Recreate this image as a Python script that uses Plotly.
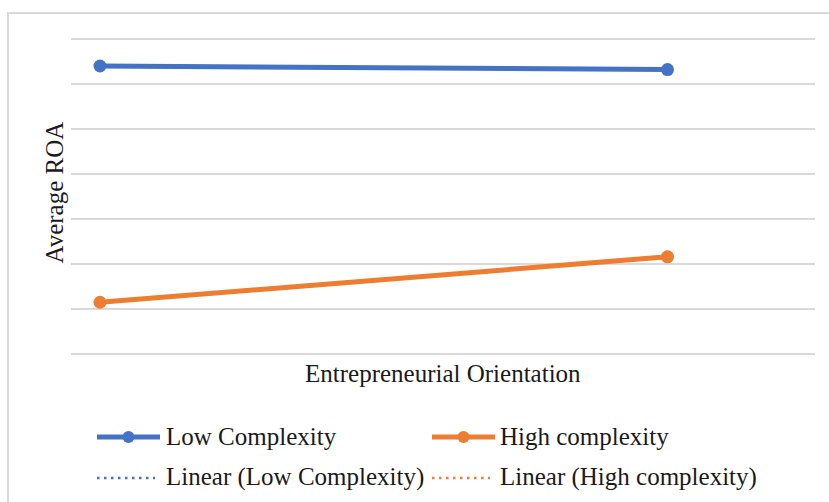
import plotly.graph_objects as go

# Entrepreneurial orientation (low / high, standardised) and average ROA
eo_levels = [-1, 1]
roa_low_complexity = [0.0640, 0.0632]
roa_high_complexity = [0.0115, 0.0216]

series_names = ["Low Complexity", "High complexity"]
trend_names = ["Linear (Low Complexity)", "Linear (High complexity)"]
colors = ["#4472C4", "#ED7D31"]

W, H = 829, 502
L, R = 71, 815          # plot area, horizontal pixels
Y_TOP, Y_BOT = 39, 354  # pixel rows of the 0.07 and 0 gridlines
PAD = 3                 # a little room so the outer gridlines are drawn
T, B = Y_TOP - PAD, Y_BOT + PAD
PX_PER_UNIT = (Y_BOT - Y_TOP) / 0.07
FONT = "Liberation Serif"
TEXT = "#1A1A1A"
DOTS = "2.5px,4.5px"


def px(x):
    return (x - L) / (R - L)


def py(y):
    return (B - y) / (B - T)


fig = go.Figure()

for name, vals, c in zip(series_names, [roa_low_complexity, roa_high_complexity], colors):
    fig.add_trace(go.Scatter(
        x=eo_levels, y=vals, mode="lines+markers", name=name,
        line=dict(color=c, width=5),
        marker=dict(color=c, size=13, symbol="circle"),
        showlegend=False,
    ))

# linear trendlines through each series
for name, vals, c in zip(trend_names, [roa_low_complexity, roa_high_complexity], colors):
    fig.add_trace(go.Scatter(
        x=eo_levels, y=vals, mode="lines", name=name,
        line=dict(color=c, width=2.5, dash=DOTS),
        showlegend=False,
    ))

shapes = []
annotations = []

# chart-area border
shapes.append(dict(type="rect", xref="paper", yref="paper",
                   x0=px(8), x1=px(900), y0=py(560), y1=py(13),
                   line=dict(color="#D9D9D9", width=2), fillcolor="rgba(0,0,0,0)",
                   layer="below"))

# legend
legend_cols = [(97, 164), (432, 498)]
row1, row2 = 437, 478
for (x0, tx), name, tname, c in zip(legend_cols, series_names, trend_names, colors):
    shapes.append(dict(type="line", xref="paper", yref="paper",
                       x0=px(x0), x1=px(x0 + 63), y0=py(row1), y1=py(row1),
                       line=dict(color=c, width=5)))
    cx = x0 + 31.5
    shapes.append(dict(type="circle", xref="paper", yref="paper",
                       x0=px(cx - 6), x1=px(cx + 6), y0=py(row1 + 6), y1=py(row1 - 6),
                       line=dict(color=c, width=0), fillcolor=c))
    shapes.append(dict(type="line", xref="paper", yref="paper",
                       x0=px(x0), x1=px(x0 + 58), y0=py(row2), y1=py(row2),
                       line=dict(color=c, width=2.5, dash=DOTS)))
    annotations.append(dict(text=name, xref="paper", yref="paper", x=px(tx), y=py(row1 - 1),
                            xanchor="left", yanchor="middle", showarrow=False,
                            font=dict(family=FONT, size=25, color=TEXT)))
    annotations.append(dict(text=tname, xref="paper", yref="paper", x=px(tx), y=py(row2 - 1),
                            xanchor="left", yanchor="middle", showarrow=False,
                            font=dict(family=FONT, size=25, color=TEXT)))

# axis titles
annotations.append(dict(text="Entrepreneurial Orientation", xref="paper", yref="paper",
                        x=px(443), y=py(373), xanchor="center", yanchor="middle",
                        showarrow=False, font=dict(family=FONT, size=25, color=TEXT)))
annotations.append(dict(text="Average ROA", xref="paper", yref="paper",
                        x=px(54), y=py(192.5), xanchor="center", yanchor="middle",
                        textangle=-90, showarrow=False,
                        font=dict(family=FONT, size=25, color=TEXT)))

fig.update_layout(
    width=W, height=H,
    margin=dict(l=L, r=W - R, t=T, b=H - B, pad=0),
    paper_bgcolor="white", plot_bgcolor="white",
    showlegend=False,
    shapes=shapes, annotations=annotations,
    xaxis=dict(range=[-1.1022, 1.5198], showticklabels=False, showgrid=False,
               zeroline=False, showline=False, ticks=""),
    yaxis=dict(range=[-PAD / PX_PER_UNIT, 0.07 + PAD / PX_PER_UNIT], tick0=0, dtick=0.01,
               showticklabels=False, showgrid=True,
               gridcolor="#D9D9D9", gridwidth=2, zeroline=False, showline=False, ticks=""),
)

fig.write_html("out.html")
